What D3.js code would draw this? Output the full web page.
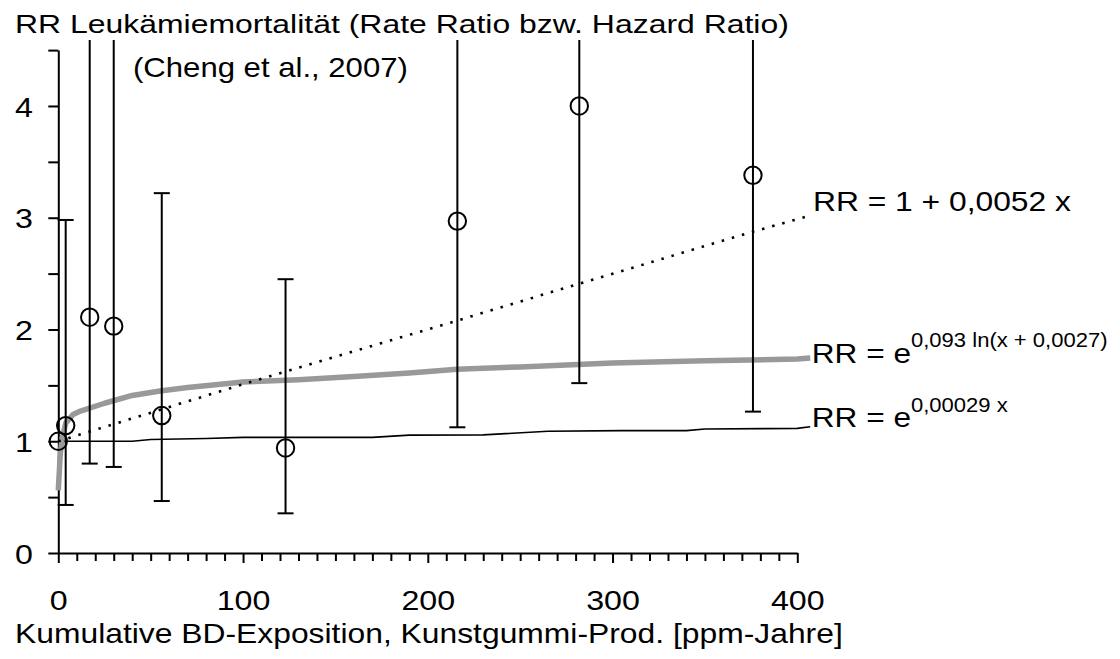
<!DOCTYPE html>
<html>
<head>
<meta charset="utf-8">
<script src="https://cdn.jsdelivr.net/npm/d3@7"></script>
<style>
  body { margin: 0; background: #fff; }
  svg { display: block; font-family: "Liberation Sans", Arial, sans-serif; }
</style>
</head>
<body>
<script>
// Messpunkte (Cheng et al., 2007): Exposition, RR, Konfidenzintervall
var expo   = [0, 4, 17, 30, 56, 123, 216, 282, 376];
var rr     = [1.0, 1.14, 2.11, 2.03, 1.23, 0.94, 2.97, 4.0, 3.38];
var ciLow  = [null, 0.43, 0.80, 0.77, 0.465, 0.355, 1.125, 1.52, 1.265];
var ciHigh = [null, 2.98, 5.5, 5.5, 3.22, 2.45, 5.5, 5.5, 5.5];

// Modellkurven
var linX = [0, 100, 216, 282, 376, 407];
var linY = [1.0, 1.51, 2.08, 2.41, 2.875, 3.02];
var logX = [0, 1, 2, 4, 8, 12, 25, 40, 55, 70, 100, 130, 160, 190, 216, 250, 300, 350, 400, 407];
var logY = [0.56, 0.87, 1.02, 1.16, 1.24, 1.27, 1.34, 1.41, 1.45, 1.48, 1.53, 1.55, 1.58, 1.61, 1.645, 1.665, 1.70, 1.72, 1.735, 1.745];
var expX = [0, 40, 50, 80, 100, 170, 190, 230, 265, 305, 340, 350, 400, 407];
var expY = [1.0, 1.0, 1.015, 1.025, 1.035, 1.035, 1.055, 1.057, 1.09, 1.095, 1.095, 1.11, 1.115, 1.13];

// Achsenbeschriftung
var xMajor = [0, 100, 200, 300, 400];
var yLabels = [0, 1, 2, 3, 4];

var width = 1120, height = 659;
var stretch = 1.13; // Original ist horizontal gestreckt

var svg = d3.select("body").append("svg").attr("width", width).attr("height", height);

var x = d3.scaleLinear().domain([0, 400]).range([58.3, 797.3]);
var y = d3.scaleLinear().domain([0, 4.5]).range([553, 50.1]);

// Text mit Zielbreite zeichnen
function label(parent, txt, px, py, size, targetW) {
  var g = parent.append("g");
  var t = g.append("text").attr("font-size", size).attr("fill", "#000").text(txt);
  var k = targetW ? targetW / t.node().getComputedTextLength() : stretch;
  g.attr("transform", "translate(" + px + "," + py + ") scale(" + k + ",1)");
  return t;
}

// Achsen
var ticksX = d3.range(0, 401, 10);
svg.append("g").attr("transform", "translate(0," + y(0) + ")")
  .call(d3.axisBottom(x).tickValues(ticksX.filter(function(d){ return d % 100 != 0; })).tickSize(8).tickFormat(""))
  .call(function(g){ g.select(".domain").remove(); });
var xAxis = svg.append("g").attr("transform", "translate(0," + y(0) + ")")
  .call(d3.axisBottom(x).tickValues(xMajor).tickSize(10).tickSizeOuter(0));
xAxis.selectAll("text").attr("font-size", 28.5).attr("font-family", null)
  .attr("y", 57).attr("dy", 0).attr("transform", "scale(" + stretch + ",1)");

var yAxis = svg.append("g").attr("transform", "translate(" + x(0) + ",0)")
  .call(d3.axisLeft(y).tickValues(d3.range(0, 4.51, 0.5)).tickSize(10).tickSizeOuter(0)
    .tickFormat(function(d){ return yLabels.indexOf(d) >= 0 ? d : ""; }));
yAxis.selectAll("text").attr("font-size", 28.5).attr("font-family", null)
  .attr("x", -25.3 / stretch).attr("dy", "0.36em").attr("transform", "scale(" + stretch + ",1)");

svg.selectAll(".domain, .tick line").attr("stroke", "#000").attr("stroke-width", 2);

// Clip oben
svg.append("clipPath").attr("id", "plot").append("rect")
  .attr("x", 0).attr("y", 40).attr("width", 830).attr("height", 600);
var plot = svg.append("g").attr("clip-path", "url(#plot)");

var line = d3.line().x(function(d){ return x(d[0]); }).y(function(d){ return y(d[1]); });

plot.append("path").attr("d", line(d3.zip(expX, expY)))
  .attr("fill", "none").attr("stroke", "#000").attr("stroke-width", 1.6);
plot.append("path").attr("d", line(d3.zip(logX, logY)))
  .attr("fill", "none").attr("stroke", "#999").attr("stroke-width", 5.5).attr("stroke-linejoin", "round");
plot.append("path").attr("d", line(d3.zip(linX, linY)))
  .attr("fill", "none").attr("stroke", "#000").attr("stroke-width", 2.6).attr("stroke-dasharray", "2.5,8");

// Fehlerbalken
var pts = expo.map(function(d, i){ return {x: d, rr: rr[i], lo: ciLow[i], hi: ciHigh[i]}; });
var bars = pts.filter(function(d){ return d.lo != null; });
var capW = 8;
plot.selectAll(".ci").data(bars).enter().append("line")
  .attr("x1", function(d){ return x(d.x); }).attr("x2", function(d){ return x(d.x); })
  .attr("y1", function(d){ return y(d.lo); }).attr("y2", function(d){ return y(d.hi); })
  .attr("stroke", "#000").attr("stroke-width", 2);
["lo", "hi"].forEach(function(k){
  plot.selectAll(".cap-" + k).data(bars).enter().append("line")
    .attr("x1", function(d){ return x(d.x) - capW; }).attr("x2", function(d){ return x(d.x) + capW; })
    .attr("y1", function(d){ return y(d[k]); }).attr("y2", function(d){ return y(d[k]); })
    .attr("stroke", "#000").attr("stroke-width", 2);
});

plot.selectAll(".pt").data(pts).enter().append("circle")
  .attr("cx", function(d){ return x(d.x); }).attr("cy", function(d){ return y(d.rr); })
  .attr("r", 8.7).attr("fill", "none").attr("stroke", "#000").attr("stroke-width", 2);

// Titel und Achsentitel
label(svg, "RR Leukämiemortalität (Rate Ratio bzw. Hazard Ratio)", 15, 33.3, 25.6, 774);
label(svg, "(Cheng et al., 2007)", 133, 77.3, 28, 275);
label(svg, "Kumulative BD-Exposition, Kunstgummi-Prod. [ppm-Jahre]", 15, 643.3, 28, 828);

// Kurvenbeschriftungen
label(svg, "RR = 1 + 0,0052 x", 813, 211, 28, 258);
var t1 = label(svg, "RR = e", 811.7, 362.7, 28);
t1.append("tspan").attr("font-size", 19.5).attr("dy", -16).text("0,093 ln(x + 0,0027)");
var t2 = label(svg, "RR = e", 811.7, 427.3, 28);
t2.append("tspan").attr("font-size", 19.5).attr("dy", -15).text("0,00029 x");
</script>
</body>
</html>
